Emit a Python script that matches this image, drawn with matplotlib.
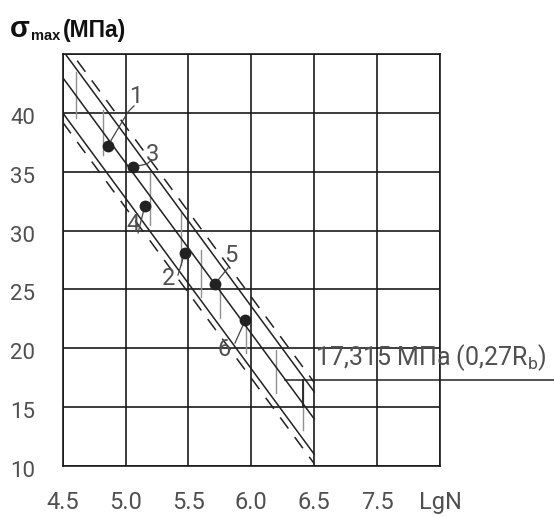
import matplotlib
matplotlib.use("Agg")
import matplotlib.pyplot as plt
import matplotlib.transforms as mtransforms
import numpy as np

# ---- data ----
x_ticks = [4.5, 5.0, 5.5, 6.0, 6.5, 7.0, 7.5]
x_tick_labels = ["4.5", "5.0", "5.5", "6.0", "6.5", "7.5", "LgN"]
y_ticks = [10, 15, 20, 25, 30, 35, 40, 45]
y_tick_labels = ["10", "15", "20", "25", "30", "35", "40", ""]

point_ids = ["1", "3", "4", "2", "5", "6"]
point_lgn = [4.857, 5.056, 5.153, 5.470, 5.709, 5.952]
point_sigma = [37.17, 35.41, 32.10, 28.11, 25.45, 22.40]

# band lines: value at LgN=4.5, slope per unit LgN
band_slope = -14.5
solid_intercepts = [45.3, 43.0, 40.0]
dashed_intercepts = [46.1, 39.2]
band_x = [4.5, 6.5]

# vertical scatter ranges (LgN, sigma top, sigma bottom)
range_lgn = [4.603, 4.817, 5.193, 5.439, 5.603, 5.748, 5.960, 6.198, 6.407]
range_top = [43.45, 40.22, 34.87, 31.48, 28.34, 24.94, 22.14, 19.85, 17.05]
range_bot = [39.54, 36.40, 30.46, 27.06, 24.35, 22.60, 19.60, 16.20, 13.06]

limit_sigma = 17.315
limit_text = "17,315 МПа (0,27R$_b$)"

FONT = ["Roboto", "DejaVu Sans"]
plt.rcParams["font.family"] = FONT
plt.rcParams["mathtext.default"] = "regular"
TXT = "#505050"

fig = plt.figure(figsize=(5.54, 5.17), dpi=100)
ax = fig.add_axes([0.1132, 0.0986, 0.6810, 0.7970])
ax.set_xlim(4.5, 7.5)
ax.set_ylim(10, 45)

# grid
for xv in x_ticks:
    ax.axvline(xv, color="#1a1a1a", lw=1.2, zorder=1)
for yv in y_ticks:
    ax.axhline(yv, color="#1a1a1a", lw=1.2, zorder=1)
for s in ax.spines.values():
    s.set_color("#1a1a1a")
    s.set_linewidth(1.2)

bx = np.array(band_x)
for b in solid_intercepts:
    ax.plot(bx, b + band_slope * (bx - 4.5), color="#222222", lw=1.1, zorder=3)
for b in dashed_intercepts:
    ax.plot(bx, b + band_slope * (bx - 4.5), color="#222222", lw=1.1,
            dashes=(9, 7), zorder=3)

for xv, t, bt in zip(range_lgn, range_top, range_bot):
    ax.plot([xv, xv], [bt, t], color="#909090", lw=1.0, zorder=2)

# limit line
ax.plot([6.266, 8.42], [limit_sigma, limit_sigma], color="#222222", lw=1.1,
        clip_on=False, zorder=3)
ax.plot([6.407, 6.407], [limit_sigma, 15.0], color="#222222", lw=1.3, zorder=3)
ax.text(6.51, limit_sigma + 0.55, limit_text, fontsize=18,
        color=TXT, ha="left", va="bottom", clip_on=False)

# points
ax.plot(point_lgn, point_sigma, "o", color="#222222", ms=7.5, zorder=5)

# labels with leaders
label_pos = {"1": (5.083, 41.35), "3": (5.215, 36.42), "4": (5.059, 30.48),
             "2": (5.345, 25.97), "5": (5.838, 27.84), "6": (5.782, 19.86)}
leaders = {"1": [(5.019, 40.08), (5.067, 40.59)],
           "3": [(5.170, 35.65), (5.205, 36.0)],
           "4": [(5.099, 29.80)],
           "2": [(5.417, 26.23)],
           "5": [(5.814, 26.82)],
           "6": [(5.870, 20.45)]}
for pid, px, py in zip(point_ids, point_lgn, point_sigma):
    xs = [px] + [p[0] for p in leaders[pid]]
    ys = [py] + [p[1] for p in leaders[pid]]
    ax.plot(xs, ys, color="#444444", lw=0.9, zorder=4)
    lx, ly = label_pos[pid]
    ax.text(lx, ly, pid, fontsize=17, color=TXT, ha="center", va="center")

# ticks
ax.set_xticks(x_ticks)
ax.set_xticklabels(x_tick_labels, fontsize=17, color=TXT)
ax.set_yticks(y_ticks)
ax.set_yticklabels(y_tick_labels, fontsize=16, color=TXT)
ax.tick_params(axis="both", length=0)
ax.tick_params(axis="x", pad=18)
ax.tick_params(axis="y", pad=20)
off = mtransforms.ScaledTranslation(0, -3 / 100, fig.dpi_scale_trans)
for lab in ax.get_yticklabels():
    lab.set_transform(lab.get_transform() + off)

# title
TFONT = ["Liberation Sans", "DejaVu Sans"]
fig.text(10 / 554, 1 - 37 / 517, "σ", fontsize=21, fontweight="bold", color="#111111",
         family=TFONT, ha="left", va="baseline")
fig.text(31 / 554, 1 - 40 / 517, "max", fontsize=10.5, fontweight="bold", color="#111111",
         family=TFONT, ha="left", va="baseline")
fig.text(63 / 554, 1 - 37 / 517, "(МПа)", fontsize=16.5, fontweight="bold", color="#111111",
         family=TFONT, ha="left", va="baseline")

fig.savefig("out.png", dpi=100)
